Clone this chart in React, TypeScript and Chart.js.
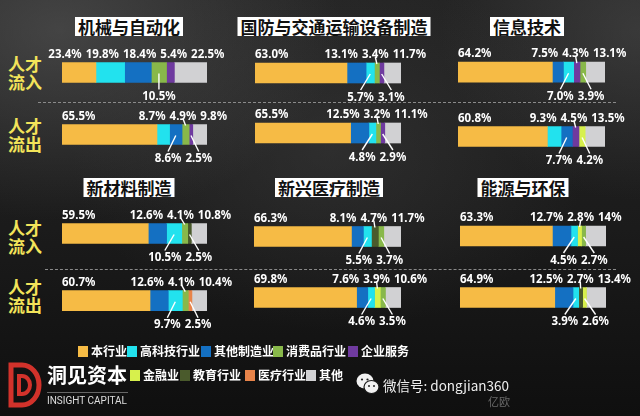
import React, { useEffect, useRef } from 'react';
import { Chart, registerables } from 'chart.js';
Chart.register(...registerables);

// ---------- data ----------
const LEGEND_NAMES = ['本行业', '高科技行业', '其他制造业', '消费品行业', '企业服务', '金融业', '教育行业', '医疗行业', '其他'];
const LEGEND_COLORS = ['#F6BB45', '#22E2EE', '#1470C2', '#88B84A', '#6F3A9F', '#D7F04C', '#4A5A2C', '#E8844A', '#D1D1D3'];
const ROW_LABELS = ['人才流入', '人才流出'];
const TITLES = ['机械与自动化', '国防与交通运输设备制造', '信息技术', '新材料制造', '新兴医疗制造', '能源与环保'];

const P1_IN_KEYS = ['本行业', '高科技行业', '其他制造业', '消费品行业', '企业服务', '其他'];
const P1_IN_VALUES = ['23.4', '19.8', '18.4', '10.5', '5.4', '22.5'];
const P1_IN_SIDES = 'aaabaa';
const P1_OUT_KEYS = ['本行业', '高科技行业', '其他制造业', '消费品行业', '企业服务', '其他'];
const P1_OUT_VALUES = ['65.5', '8.7', '8.6', '4.9', '2.5', '9.8'];
const P1_OUT_SIDES = 'aababa';

const P2_IN_KEYS = ['本行业', '其他制造业', '高科技行业', '消费品行业', '企业服务', '其他'];
const P2_IN_VALUES = ['63.0', '13.1', '5.7', '3.4', '3.1', '11.7'];
const P2_IN_SIDES = 'aababa';
const P2_OUT_KEYS = ['本行业', '其他制造业', '高科技行业', '消费品行业', '企业服务', '其他'];
const P2_OUT_VALUES = ['65.5', '12.5', '4.8', '3.2', '2.9', '11.1'];
const P2_OUT_SIDES = 'aababa';

const P3_IN_KEYS = ['本行业', '其他制造业', '高科技行业', '企业服务', '消费品行业', '其他'];
const P3_IN_VALUES = ['64.2', '7.5', '7.0', '4.3', '3.9', '13.1'];
const P3_IN_SIDES = 'aababa';
const P3_OUT_KEYS = ['本行业', '高科技行业', '其他制造业', '企业服务', '金融业', '其他'];
const P3_OUT_VALUES = ['60.8', '9.3', '7.7', '4.5', '4.2', '13.5'];
const P3_OUT_SIDES = 'aababa';

const P4_IN_KEYS = ['本行业', '其他制造业', '高科技行业', '消费品行业', '教育行业', '其他'];
const P4_IN_VALUES = ['59.5', '12.6', '10.5', '4.1', '2.5', '10.8'];
const P4_IN_SIDES = 'aababa';
const P4_OUT_KEYS = ['本行业', '其他制造业', '高科技行业', '消费品行业', '医疗行业', '其他'];
const P4_OUT_VALUES = ['60.7', '12.6', '9.7', '4.1', '2.5', '10.4'];
const P4_OUT_SIDES = 'aababa';

const P5_IN_KEYS = ['本行业', '其他制造业', '高科技行业', '教育行业', '消费品行业', '其他'];
const P5_IN_VALUES = ['66.3', '8.1', '5.5', '4.7', '3.7', '11.7'];
const P5_IN_SIDES = 'aababa';
const P5_OUT_KEYS = ['本行业', '其他制造业', '高科技行业', '金融业', '消费品行业', '其他'];
const P5_OUT_VALUES = ['69.8', '7.6', '4.6', '3.9', '3.5', '10.6'];
const P5_OUT_SIDES = 'aababa';

const P6_IN_KEYS = ['本行业', '其他制造业', '高科技行业', '金融业', '消费品行业', '其他'];
const P6_IN_VALUES = ['63.3', '12.7', '4.5', '2.8', '2.7', '14'];
const P6_IN_SIDES = 'aababa';
const P6_OUT_KEYS = ['本行业', '其他制造业', '高科技行业', '教育行业', '金融业', '其他'];
const P6_OUT_VALUES = ['64.9', '12.5', '3.9', '2.7', '2.6', '13.4'];
const P6_OUT_SIDES = 'aababa';

// ---------- layout (positions only) ----------
const GEOMS = [
  { x0: 62, x1: 207, yIn: 72.5, yOut: 134.5, tx: 129, ty: 17 },
  { x0: 255, x1: 401, yIn: 73, yOut: 133, tx: 334, ty: 17 },
  { x0: 458, x1: 605, yIn: 72.2, yOut: 136.5, tx: 527, ty: 17 },
  { x0: 62, x1: 207, yIn: 233.5, yOut: 300.7, tx: 129, ty: 178 },
  { x0: 254, x1: 401, yIn: 236.5, yOut: 297.5, tx: 329, ty: 178 },
  { x0: 460, x1: 606, yIn: 236, yOut: 297.5, tx: 523, ty: 178 },
];

const PANELS = [
  [P1_IN_KEYS, P1_IN_VALUES, P1_IN_SIDES, P1_OUT_KEYS, P1_OUT_VALUES, P1_OUT_SIDES],
  [P2_IN_KEYS, P2_IN_VALUES, P2_IN_SIDES, P2_OUT_KEYS, P2_OUT_VALUES, P2_OUT_SIDES],
  [P3_IN_KEYS, P3_IN_VALUES, P3_IN_SIDES, P3_OUT_KEYS, P3_OUT_VALUES, P3_OUT_SIDES],
  [P4_IN_KEYS, P4_IN_VALUES, P4_IN_SIDES, P4_OUT_KEYS, P4_OUT_VALUES, P4_OUT_SIDES],
  [P5_IN_KEYS, P5_IN_VALUES, P5_IN_SIDES, P5_OUT_KEYS, P5_OUT_VALUES, P5_OUT_SIDES],
  [P6_IN_KEYS, P6_IN_VALUES, P6_IN_SIDES, P6_OUT_KEYS, P6_OUT_VALUES, P6_OUT_SIDES],
] as any[];

const LABEL_FONT = 'bold 11.5px "Noto Sans", "DejaVu Sans", sans-serif';
const CJK = '"Noto Sans CJK SC", "Noto Sans", sans-serif';

const colorOf = (k: string) => LEGEND_COLORS[LEGEND_NAMES.indexOf(k)];

function relax(items: any[], gap: number) {
  for (let iter = 0; iter < 200; iter++) {
    let moved = false;
    for (let i = 1; i < items.length; i++) {
      const a = items[i - 1], b = items[i];
      const ov = a.x + a.w / 2 + gap - (b.x - b.w / 2);
      if (ov > 0.01) {
        if (a.anchored) b.x += ov;
        else { a.x -= ov / 2; b.x += ov / 2; }
        moved = true;
      }
    }
    if (!moved) break;
  }
}

function makeLabelPlugin(texts: string[][], sides: string[]) {
  return {
    id: 'flowLabels',
    afterDatasetsDraw(chart: any) {
      const ctx = chart.ctx as CanvasRenderingContext2D;
      ctx.save();
      ctx.font = LABEL_FONT;
      ctx.fillStyle = '#ffffff';
      ctx.strokeStyle = '#ffffff';
      ctx.lineWidth = 1.4;
      ctx.textAlign = 'center';
      ctx.textBaseline = 'alphabetic';
      for (let j = 0; j < 2; j++) {
        const segs: any[] = [];
        for (let k = 0; k < chart.data.datasets.length; k++) {
          const el: any = chart.getDatasetMeta(k).data[j];
          const p = el.getProps(['x', 'base', 'y', 'height'], true);
          const s = Math.min(p.x, p.base), e = Math.max(p.x, p.base);
          segs.push({ s, e, cx: (s + e) / 2, y: p.y, h: p.height, text: texts[j][k] + '%', val: parseFloat(texts[j][k]), side: sides[j][k] });
        }
        for (const side of ['a', 'b']) {
          const items = segs.filter((g) => g.side === side).map((g, i) => {
            const w = ctx.measureText(g.text).width;
            const anchored = side === 'a' && i === 0 && g.val >= 30;
            return { ...g, w, x: anchored ? g.s + w / 2 : g.cx, anchored };
          });
          relax(items, 4);
          for (const it of items) {
            const top = it.y - it.h / 2, bot = it.y + it.h / 2;
            if (side === 'a') {
              ctx.fillText(it.text, it.x, top - 5);
              if (it.val < 5) {
                ctx.beginPath();
                ctx.moveTo(it.x, top - 6);
                ctx.lineTo(it.cx, top + 1);
                ctx.stroke();
              }
            } else {
              ctx.fillText(it.text, it.x, bot + 17.5);
              ctx.beginPath();
              ctx.moveTo(it.cx, it.y + 1);
              ctx.lineTo(it.x, bot + 7);
              ctx.stroke();
            }
          }
        }
      }
      ctx.restore();
    },
  };
}

const PAD_X = 40;
const PAD_Y = 28;

function Panel({ idx }: { idx: number }) {
  const ref = useRef<HTMLCanvasElement>(null);
  const g = GEOMS[idx];
  const [inKeys, inVals, inSides, outKeys, outVals, outSides] = PANELS[idx];
  const s = g.yOut - g.yIn;
  const chartTop = g.yIn - s / 2;
  const canvasTop = Math.round(chartTop - PAD_Y);
  const padTop = chartTop - canvasTop;
  const height = Math.round(padTop + 2 * s + PAD_Y);
  const padBottom = height - padTop - 2 * s;
  const left = g.x0 - PAD_X;
  const width = g.x1 - g.x0 + 2 * PAD_X;

  useEffect(() => {
    const canvas = ref.current!;
    const datasets = (inKeys as string[]).map((_, k) => ({
      data: [parseFloat(inVals[k]), parseFloat(outVals[k])],
      backgroundColor: [colorOf(inKeys[k]), colorOf(outKeys[k])],
      borderWidth: 0,
      barThickness: 20,
    }));
    const chart = new Chart(canvas, {
      type: 'bar',
      data: { labels: ROW_LABELS, datasets },
      options: {
        indexAxis: 'y',
        responsive: false,
        animation: false,
        layout: { padding: { left: PAD_X, right: PAD_X, top: padTop, bottom: padBottom } },
        scales: {
          x: { stacked: true, min: 0, max: 100, display: false },
          y: { stacked: true, display: false },
        },
        plugins: { legend: { display: false }, tooltip: { enabled: false } },
      },
      plugins: [makeLabelPlugin([inVals, outVals], [inSides, outSides])],
    } as any);
    return () => chart.destroy();
  }, []);

  return (
    <canvas ref={ref} width={width} height={height}
      style={{ position: 'absolute', left, top: canvasTop, width, height }} />
  );
}

const SIDE_LABEL_TOPS = [55, 117, 219, 278];
const LEGEND_POS = [
  [78, 345], [127, 345], [201, 345], [273, 345], [348, 345],
  [130, 369], [180, 369], [245, 369], [306, 369],
];

export default function App() {
  return (
    <div style={{
      position: 'fixed', left: 0, top: 0, width: 640, height: 416, overflow: 'hidden',
      background: 'radial-gradient(ellipse 280px 190px at 60px 30px, rgba(95,95,95,0.55), rgba(0,0,0,0)), radial-gradient(ellipse 260px 180px at 330px 150px, rgba(70,70,70,0.4), rgba(0,0,0,0)), radial-gradient(ellipse 200px 170px at 640px 30px, rgba(85,85,85,0.45), rgba(0,0,0,0)), linear-gradient(180deg, #242424 0%, #1b1b1b 55%, #0f0f0f 100%)',
      fontFamily: CJK,
    }}>
      {/* dashed separators */}
      <div style={{ position: 'absolute', left: 38, top: 102, width: 578, borderTop: '1px dashed #8a8a8a' }} />
      <div style={{ position: 'absolute', left: 45, top: 269, width: 571, borderTop: '1px dashed #8a8a8a' }} />

      {/* side row labels */}
      {SIDE_LABEL_TOPS.map((t, i) => {
        const txt = ROW_LABELS[i % 2];
        return (
          <div key={i} style={{ position: 'absolute', left: 8, top: t, width: 40, color: '#F3E45A', fontWeight: 700, fontSize: 17, lineHeight: '18px' }}>
            {txt.slice(0, 2)}<br />{txt.slice(2)}
          </div>
        );
      })}

      {/* titles */}
      {TITLES.map((t, i) => (
        <div key={t} style={{
          position: 'absolute', left: GEOMS[i].tx, top: GEOMS[i].ty, transform: 'translateX(-50%)',
          background: '#ffffff', color: '#111', fontWeight: 700, fontSize: 17, lineHeight: '19px', height: 19,
          padding: '0 3px', whiteSpace: 'nowrap',
        }}>{t}</div>
      ))}

      {GEOMS.map((_, i) => <Panel key={i} idx={i} />)}

      {/* legend */}
      {LEGEND_NAMES.map((n, i) => (
        <div key={n} style={{ position: 'absolute', left: LEGEND_POS[i][0], top: LEGEND_POS[i][1], display: 'flex', alignItems: 'center', whiteSpace: 'nowrap' }}>
          <div style={{ width: 10, height: 11, background: LEGEND_COLORS[i], marginRight: 3 }} />
          <span style={{ color: '#fff', fontWeight: 700, fontSize: 12, lineHeight: '12px' }}>{n}</span>
        </div>
      ))}

      {/* logo */}
      <svg width={34} height={46} viewBox="0 0 34 46" style={{ position: 'absolute', left: 8, top: 362 }}>
        <path d="M3 3 H14 A17 20 0 0 1 14 43 H3 Z" fill="none" stroke="#D2322B" strokeWidth={5} />
        <path d="M11 14 H14 A8 9 0 0 1 14 32 H11 Z" fill="none" stroke="#D2322B" strokeWidth={4} />
      </svg>
      <div style={{ position: 'absolute', left: 47, top: 363, color: '#fff', fontSize: 20, fontWeight: 700, lineHeight: '24px', whiteSpace: 'nowrap' }}>洞见资本</div>
      <div style={{ position: 'absolute', left: 47, top: 392, width: 81, borderTop: '1px solid #666' }} />
      <div style={{ position: 'absolute', left: 47, top: 395, color: '#ddd', fontSize: 10, fontFamily: 'Roboto, sans-serif', lineHeight: '12px', whiteSpace: 'nowrap' }}>INSIGHT CAPITAL</div>

      {/* wechat */}
      <svg width={24} height={24} viewBox="0 0 24 24" style={{ position: 'absolute', left: 356, top: 372 }}>
        <ellipse cx={9} cy={9} rx={8.5} ry={7.5} fill="#f2f2f2" />
        <ellipse cx={15.5} cy={15} rx={7.5} ry={6.5} fill="#f2f2f2" stroke="#1a1a1a" strokeWidth={1.2} />
        <circle cx={6} cy={7.5} r={1.1} fill="#222" />
        <circle cx={11.5} cy={7.5} r={1.1} fill="#222" />
        <circle cx={13} cy={14} r={1} fill="#222" />
        <circle cx={18} cy={14} r={1} fill="#222" />
      </svg>
      <div style={{ position: 'absolute', left: 383, top: 376, color: '#eee', fontSize: 13.5, lineHeight: '18px', whiteSpace: 'nowrap' }}>微信号: dongjian360</div>
      <div style={{ position: 'absolute', left: 488, top: 395, color: '#6a6a6a', fontSize: 11, lineHeight: '12px', whiteSpace: 'nowrap' }}>亿欧</div>
    </div>
  );
}
